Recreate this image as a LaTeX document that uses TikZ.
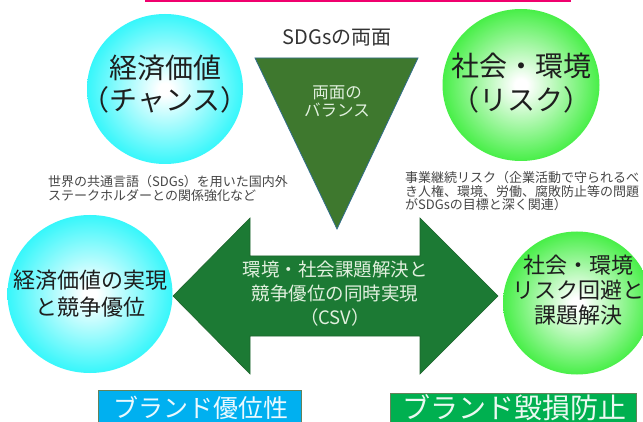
\documentclass[tikz,border=0pt]{standalone}
\usepackage{fontspec}
\newfontfamily\jp{Noto Sans CJK JP}
\usetikzlibrary{shapes.geometric}
\definecolor{pinkline}{RGB}{240,0,110}
\definecolor{cyanball}{RGB}{20,245,250}
\definecolor{greenball}{RGB}{40,236,40}
\definecolor{trifill}{RGB}{62,120,46}
\definecolor{triedge}{RGB}{50,110,140}
\definecolor{arrowfill}{RGB}{28,122,52}
\definecolor{arrowedge}{RGB}{30,100,45}
\definecolor{boxblue}{RGB}{0,176,240}
\definecolor{boxgreen}{RGB}{0,176,80}
\definecolor{boxedge}{RGB}{100,130,90}
\definecolor{paletxt}{RGB}{225,240,222}
\definecolor{darktxt}{RGB}{30,30,30}
\definecolor{graytxt}{RGB}{70,70,70}
\pgfdeclareradialshading{cyanshade}{\pgfpoint{0bp}{0bp}}{color(0bp)=(white); color(2bp)=(white); color(29bp)=(cyanball); color(50bp)=(cyanball)}
\pgfdeclareradialshading{greenshade}{\pgfpoint{0bp}{0bp}}{color(0bp)=(white); color(2bp)=(white); color(29bp)=(greenball); color(50bp)=(greenball)}
\tikzset{
  jtext/.style={font=\jp, inner sep=0pt, align=center},
  ball/.style={ellipse, inner sep=0pt, shade, shading=#1},
  lbox/.style={draw=boxedge, line width=0.8pt}
}
\begin{document}
\begin{tikzpicture}[x=1pt,y=-1pt]
\useasboundingbox (0,0) rectangle (643,422);
\fill[white] (0,0) rectangle (643,422);
\clip (0,0) rectangle (643,422);

% top pink line
\coordinate (pl) at (145,1);
\coordinate (pr) at (571,1);
\draw[pinkline, line width=3pt] (pl) -- (pr);

% circles
\node[ball=cyanshade, minimum width=156pt, minimum height=150pt] (tl) at (165,89) {};
\node[ball=greenshade, minimum width=157pt, minimum height=152pt] (tr) at (521,85) {};
\node[ball=cyanshade, minimum width=165pt, minimum height=158pt] (bl) at (90,294) {};
\node[ball=greenshade, minimum width=148pt, minimum height=143pt] (br) at (577,303) {};

% triangle
\coordinate (t1) at (255,58);
\coordinate (t2) at (418,58);
\coordinate (t3) at (337,229);
\filldraw[fill=trifill, draw=triedge, line width=0.8pt] (t1) -- (t2) -- (t3) -- cycle;

% double arrow
\filldraw[fill=arrowfill, draw=arrowedge, line width=0.6pt]
  (173,296) -- (250,218) -- (250,256) -- (420,256) -- (420,218) -- (498,296)
  -- (420,374) -- (420,336) -- (250,336) -- (250,374) -- cycle;

% texts
\node[jtext, text=black!80, font=\jp\fontsize{20}{24}\selectfont] (title) at (337,38) {SDGsの両面};
\node[jtext, text=paletxt, font=\jp\fontsize{16.5}{18}\selectfont] (tritxt) at (337,101) {両面の\\バランス};
\node[jtext, text=darktxt, font=\jp\fontsize{28}{32}\selectfont] (tltxt) at (165,84) {経済価値\\（チャンス）};
\node[jtext, text=darktxt, font=\jp\fontsize{28}{34}\selectfont] (trtxt) at (521,83) {社会・環境\\（リスク）};
\node[jtext, text=darktxt, font=\jp\fontsize{22}{27}\selectfont] (bltxt) at (90,293.5) {経済価値の実現\\と競争優位};
\node[jtext, text=darktxt, font=\jp\fontsize{22}{25}\selectfont] (brtxt) at (578,290) {社会・環境\\リスク回避と\\課題解決};
\node[jtext, text=paletxt, font=\jp\fontsize{18.5}{24}\selectfont] (arrtxt) at (335,294) {環境・社会課題解決と\\競争優位の同時実現\\（CSV）};

\node[jtext, align=left, anchor=west, text=graytxt, font=\jp\fontsize{13}{13.5}\selectfont] (lnote) at (48,188.5) {世界の共通言語（SDGs）を用いた国内外\\ステークホルダーとの関係強化など};
\node[jtext, align=left, anchor=west, text=graytxt, font=\jp\fontsize{13}{13.5}\selectfont] (rnote) at (405,191.5) {事業継続リスク（企業活動で守られるべ\\き人権、環境、労働、腐敗防止等の問題\\がSDGsの目標と深く関連）};

% bottom labels
\filldraw[lbox, fill=boxblue] (98,390) rectangle (301,430);
\node[jtext, text=white!92!boxblue, font=\jp\fontsize{25}{28}\selectfont] (blbl) at (201,408) {ブランド優位性};
\filldraw[lbox, fill=boxgreen] (390,393) rectangle (636,430);
\node[jtext, text=white!92!boxgreen, font=\jp\fontsize{28}{30}\selectfont] (glbl) at (514,408) {ブランド毀損防止};
\end{tikzpicture}
\end{document}
